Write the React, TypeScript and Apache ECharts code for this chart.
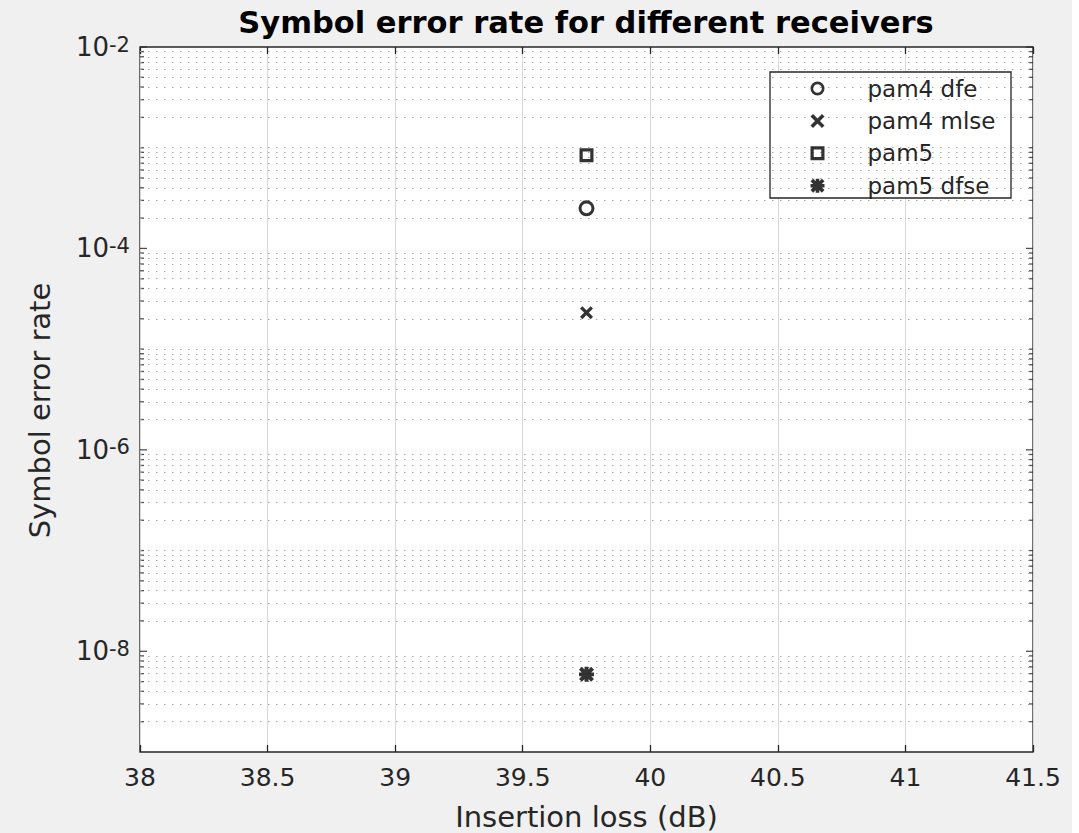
import React, { useEffect, useRef } from 'react';
import * as echarts from 'echarts';

// ---- data ----
const seriesNames = ['pam4 dfe', 'pam4 mlse', 'pam5', 'pam5 dfse'];
const insertionLoss = [39.75, 39.75, 39.75, 39.75];
const symbolErrorRate = [2.5e-4, 2.3e-5, 8.4e-4, 5.9e-9];
const xTickLabels = ['38', '38.5', '39', '39.5', '40', '40.5', '41', '41.5'];
const xMin = 38;
const xMax = 41.5;
const yMin = 1e-9;
const yMax = 1e-2;
const yMajorExponents = [-8, -6, -4, -2];
const yDecadeExponents = [-9, -8, -7, -6, -5, -4, -3];
const minorMultipliers = [2, 3, 4, 5, 6, 7, 8, 9];

const FONT = 'DejaVu Sans';
const INK = '#262626';

const ringPath =
  'path://M0,5A5,5 0 1,1 10,5A5,5 0 1,1 0,5Z M1.9,5A3.1,3.1 0 1,0 8.1,5A3.1,3.1 0 1,0 1.9,5Z';
const crossPath =
  'path://M0,1.8L1.8,0L10,8.2L8.2,10Z M8.2,0L10,1.8L1.8,10L0,8.2Z';
const squarePath =
  'path://M0,0L10,0L10,10L0,10Z M2.3,2.3L2.3,7.7L7.7,7.7L7.7,2.3Z';
const asteriskPath =
  'path://M0,3.7L10,3.7L10,6.3L0,6.3Z M6.3,0L6.3,10L3.7,10L3.7,0Z M0,1.9L1.9,0L10,8.1L8.1,10Z M8.1,0L10,1.9L1.9,10L0,8.1Z';

const symbols = [ringPath, crossPath, squarePath, asteriskPath];
const symbolSizes = [16, 13, 14, 15];
const markerStyle = { color: '#000', borderWidth: 0 };

function buildMinorValues(): number[] {
  const out: number[] = [];
  yDecadeExponents.forEach((e) => {
    if (e !== -9 && !yMajorExponents.includes(e)) out.push(Number((10 ** e).toPrecision(3)));
    minorMultipliers.forEach((m) => out.push(Number((m * 10 ** e).toPrecision(3))));
  });
  return out;
}

export default function App() {
  const ref = useRef<HTMLDivElement>(null);
  useEffect(() => {
    if (!ref.current) return;
    const chart = echarts.init(ref.current, undefined, { renderer: 'svg' });
    const minorValues = buildMinorValues();
    const majorValues = yMajorExponents.filter((e) => e > -2).map((e) => Number((10 ** e).toPrecision(3)));
    const allMajorTickValues = yMajorExponents.map((e) => Number((10 ** e).toPrecision(3)));

    const scatterSeries = seriesNames.map((name, i) => ({
      name,
      type: 'scatter',
      data: [[insertionLoss[i], symbolErrorRate[i]]],
      symbol: symbols[i],
      symbolSize: symbolSizes[i],
      itemStyle: markerStyle,
      z: 5,
      clip: false,
    }));

    const tickSeries = (x: number, values: number[], len: number, dir: number, extra: any = {}) => ({
      type: 'scatter',
      silent: true,
      clip: false,
      z: 3,
      data: values.map((v) => [x, v]),
      symbol: 'rect',
      symbolSize: [len, 1.3],
      symbolOffset: [(dir * len) / 2, 0],
      itemStyle: { color: INK },
      ...extra,
    });

    chart.setOption({
      animation: false,
      backgroundColor: '#f0f0f0',
      textStyle: { fontFamily: FONT },
      title: {
        text: 'Symbol error rate for different receivers',
        left: 581,
        textAlign: 'center',
        top: 2,
        textStyle: { fontFamily: FONT, fontSize: 30.5, fontWeight: 'bold', color: '#000' },
      },
      grid: {
        left: 140,
        right: 46,
        top: 47,
        bottom: 81,
        show: true,
        backgroundColor: '#fff',
        borderColor: INK,
        borderWidth: 1.3,
        containLabel: false,
        outerBoundsMode: 'none',
      },
      legend: {
        orient: 'vertical',
        left: 770,
        top: 72,
        padding: [5, 0, 7, 40.5],
        itemWidth: 90,
        itemHeight: 14,
        itemGap: 9.4,
        z: 6,
        textStyle: { fontFamily: FONT, fontSize: 23, color: INK },
        data: seriesNames.map((name, i) => ({
          name,
          icon: symbols[i],
          itemStyle: markerStyle,
        })),
      },
      graphic: [
        {
          type: 'rect',
          z: 4,
          shape: { x: 770, y: 72, width: 241, height: 126 },
          style: { fill: '#fff', stroke: INK, lineWidth: 1.3 },
        },
        {
          type: 'rect',
          z: 10,
          shape: { x: 1072, y: 0, width: 7, height: 833 },
          style: { fill: '#fff' },
        },
      ],
      xAxis: [
        {
          type: 'value',
          min: xMin,
          max: xMax,
          interval: 0.5,
          position: 'bottom',
          name: 'Insertion loss (dB)',
          nameLocation: 'middle',
          nameGap: 50,
          nameTextStyle: { fontFamily: FONT, fontSize: 29, color: INK },
          axisLine: { show: false },
          axisTick: { show: true, inside: true, length: 7, lineStyle: { color: INK, width: 1.3 } },
          axisLabel: {
            margin: 13,
            fontFamily: FONT,
            fontSize: 25,
            color: INK,
            formatter: (v: number) => {
              const idx = Math.round((v - xMin) / 0.5);
              return xTickLabels[idx] ?? '';
            },
          },
          splitLine: { show: true, lineStyle: { color: '#d8d8d8', width: 1 } },
        },
        {
          type: 'value',
          min: xMin,
          max: xMax,
          interval: 0.5,
          position: 'top',
          axisLine: { show: false },
          axisTick: { show: true, inside: true, length: 7, lineStyle: { color: INK, width: 1.3 } },
          axisLabel: { show: false },
          splitLine: { show: false },
        },
      ],
      yAxis: [
        {
          type: 'log',
          logBase: 10,
          min: yMin,
          max: yMax,
          name: 'Symbol error rate',
          nameLocation: 'middle',
          nameGap: 86,
          nameTextStyle: { fontFamily: FONT, fontSize: 29, color: INK, padding: [0, 22, 0, 0] },
          axisLine: { show: false },
          axisTick: { show: false },
          splitLine: { show: false },
          axisLabel: {
            margin: 10,
            fontFamily: FONT,
            fontSize: 26,
            color: INK,
            formatter: (v: number) => {
              const e = Math.round(Math.log10(v));
              return yMajorExponents.includes(e) ? `{b|10}{s|${e}}` : '';
            },
            rich: {
              b: { fontFamily: FONT, fontSize: 26, color: INK, lineHeight: 26, padding: [9, 0, 0, 0], verticalAlign: 'bottom' },
              s: { fontFamily: FONT, fontSize: 21, color: INK, lineHeight: 21, verticalAlign: 'top' },
            },
          },
        },
        {
          type: 'log',
          logBase: 10,
          min: yMin,
          max: yMax,
          position: 'right',
          axisLine: { show: false },
          axisTick: { show: false },
          axisLabel: { show: false },
          splitLine: { show: false },
        },
      ],
      series: [
        tickSeries(xMin, allMajorTickValues, 7, 1, {
          markLine: {
            silent: true,
            symbol: 'none',
            precision: 15,
            label: { show: false },
            animation: false,
            data: [
              ...minorValues.map((v) => ({
                yAxis: v,
                lineStyle: { type: [1.5, 6.5], color: '#a8a8a8', width: 1 },
              })),
              ...majorValues.map((v) => ({
                yAxis: v,
                lineStyle: { type: 'solid', color: '#d8d8d8', width: 1 },
              })),
            ],
          },
        }),
        tickSeries(xMax, allMajorTickValues, 7, -1),
        tickSeries(xMin, minorValues, 4, 1),
        tickSeries(xMax, minorValues, 4, -1),
        ...scatterSeries,
      ],
    });
    return () => chart.dispose();
  }, []);

  return (
    <div
      ref={ref}
      style={{ position: 'fixed', left: 0, top: 0, width: 1079, height: 833 }}
    />
  );
}
